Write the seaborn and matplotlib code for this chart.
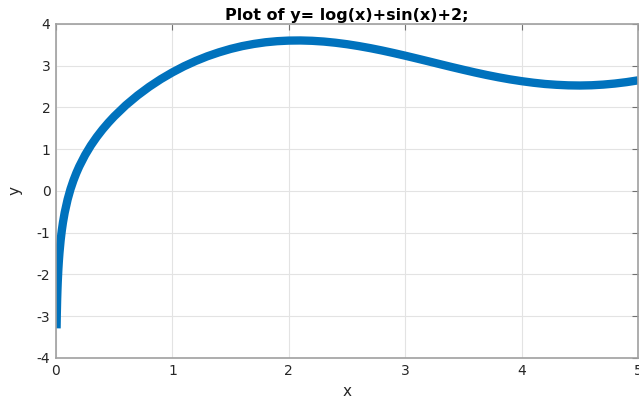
import matplotlib
matplotlib.use("Agg")
import matplotlib.pyplot as plt
import seaborn as sns
import pandas as pd

# Values
x_vals = [0.005, 0.007, 0.01, 0.0125, 0.015, 0.02, 0.025, 0.03, 0.04, 0.05, 0.06,
          0.075, 0.1, 0.125, 0.15, 0.175, 0.2, 0.25, 0.3, 0.35, 0.4, 0.45, 0.5,
          0.6, 0.7, 0.8, 0.9, 1.0, 1.1, 1.2, 1.3, 1.4, 1.5, 1.6, 1.7, 1.8, 1.9,
          2.0, 2.1, 2.2, 2.3, 2.4, 2.5, 2.6, 2.7, 2.8, 2.9, 3.0, 3.1, 3.2, 3.3,
          3.4, 3.5, 3.6, 3.7, 3.8, 3.9, 4.0, 4.1, 4.2, 4.3, 4.4, 4.5, 4.6, 4.7,
          4.8, 4.9, 5.0]
y_vals = [-3.29, -2.955, -2.595, -2.370, -2.185, -1.892, -1.664, -1.477, -1.179,
          -0.946, -0.753, -0.515, -0.203, 0.046, 0.252, 0.431, 0.589, 0.861, 1.092,
          1.293, 1.473, 1.636, 1.786, 2.054, 2.287, 2.494, 2.678, 2.841, 2.987,
          3.114, 3.226, 3.321, 3.403, 3.470, 3.522, 3.562, 3.588, 3.602, 3.605,
          3.597, 3.579, 3.551, 3.515, 3.471, 3.421, 3.365, 3.304, 3.240, 3.173,
          3.105, 3.036, 2.968, 2.902, 2.838, 2.778, 2.723, 2.673, 2.630, 2.593,
          2.563, 2.543, 2.530, 2.526, 2.532, 2.548, 2.573, 2.607, 2.650]
x_ticks = [0, 1, 2, 3, 4, 5]
y_ticks = [-4, -3, -2, -1, 0, 1, 2, 3, 4]
title_text = "Plot of y= log(x)+sin(x)+2;"

sns.set_style("white")
plt.rcParams['font.family'] = ['DejaVu Sans']
plt.rcParams['axes.unicode_minus'] = False

df = pd.DataFrame({"x": x_vals, "y": y_vals})

fig = plt.figure(figsize=(6.39, 4.03), dpi=100)
ax = fig.add_axes([0.0876, 0.1117, 0.9110, 0.8288])
sns.lineplot(data=df, x="x", y="y", ax=ax, color="#0072BD", linewidth=6.0,
             solid_capstyle="butt", solid_joinstyle="round", sort=False)

ax.set_xlim(0, 5)
ax.set_ylim(-4, 4)
ax.set_xticks(x_ticks)
ax.set_yticks(y_ticks)
ax.grid(True, color="#e3e3e3", linewidth=0.8)
ax.set_axisbelow(True)
for s in ax.spines.values():
    s.set_color("#a0a0a0")
    s.set_linewidth(1.2)
ax.tick_params(direction="in", length=4, width=0.8, color="#707070",
               top=True, right=True, labelsize=10, labelcolor="#262626", pad=4)
ax.set_xlabel("x", fontsize=11, color="#262626", labelpad=5)
ax.set_ylabel("y", fontsize=11, color="#262626", labelpad=10)
ax.set_title(title_text, fontsize=11.5, fontweight="bold", color="#000000", pad=3)

fig.savefig("out.png", dpi=100)
